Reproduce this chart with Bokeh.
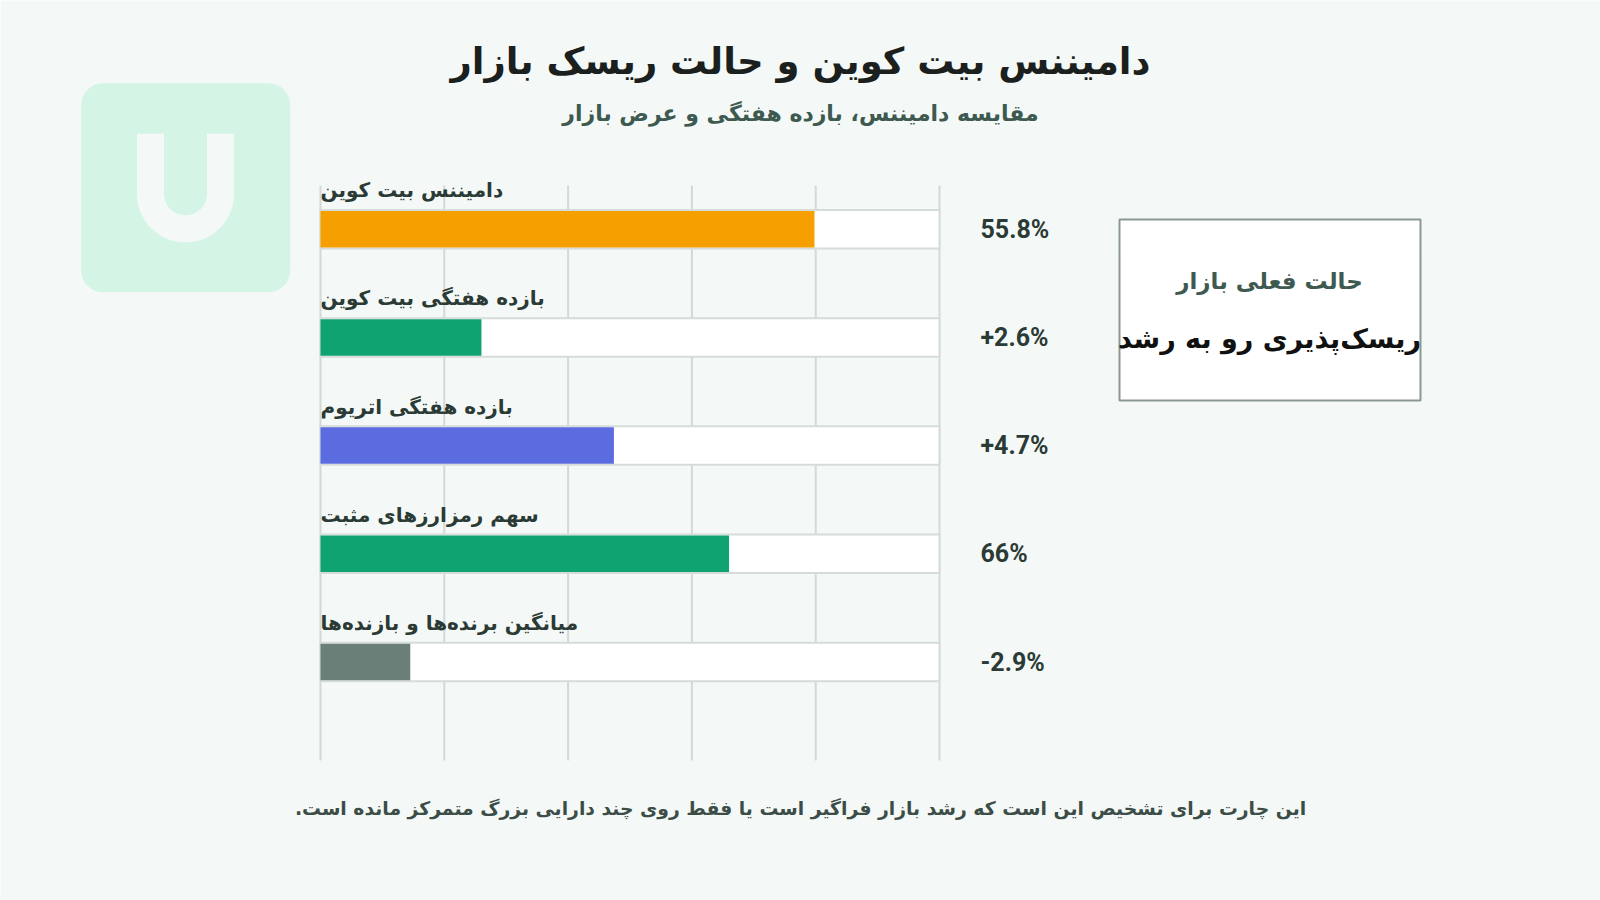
import numpy as np
from bokeh.plotting import figure
from bokeh.models import Range1d, BoxAnnotation
from bokeh.core.properties import value
from bokeh.embed import file_html
from bokeh.resources import INLINE

# ---------------- data ----------------
categories = [
    "دامیننس بیت کوین",
    "بازده هفتگی بیت کوین",
    "بازده هفتگی اتریوم",
    "سهم رمزارزهای مثبت",
    "میانگین برنده\u200cها و بازنده\u200cها",
]
bar_scores = [79.8, 26.0, 47.4, 66.0, 14.5]          # bar length on the 0-100 track
value_labels = ["55.8%", "+2.6%", "+4.7%", "66%", "-2.9%"]
bar_colors = ["#f5a000", "#0fa372", "#5b6be0", "#0fa372", "#6a7f78"]
grid_ticks = [0, 20, 40, 60, 80, 100]

title = "دامیننس بیت کوین و حالت ریسک بازار"
subtitle = "مقایسه دامیننس، بازده هفتگی و عرض بازار"
box_title = "حالت فعلی بازار"
box_value = "ریسک\u200cپذیری رو به رشد"
footer = "این چارت برای تشخیص این است که رشد بازار فراگیر است یا فقط روی چند دارایی بزرگ متمرکز مانده است.\u200f"

# ---------------- layout ----------------
W, H = 1600, 900
BG = "#f4f9f7"
FA = value("DejaVu Sans")
track_l, track_r = 320.0, 939.0        # px
ppu = (track_r - track_l) / 100.0
row0, step = 228.7, 108.2              # px
y = list(range(len(categories)))

p = figure(width=W, height=H, output_backend="svg", toolbar_location=None,
           x_axis_location=None, y_axis_location=None,
           x_range=Range1d(-track_l / ppu, (W - track_l) / ppu),
           y_range=Range1d((H - row0) / step, -row0 / step),
           min_border=0, min_border_left=0, min_border_right=0,
           min_border_top=0, min_border_bottom=0)
p.extra_x_ranges = {"px": Range1d(0, W)}
p.extra_y_ranges = {"px": Range1d(H, 0)}
p.background_fill_color = BG
p.border_fill_color = BG
p.outline_line_color = None
p.grid.visible = False

# grid lines
g_top, g_bot = (185 - row0) / step, (760 - row0) / step
p.segment(x0=grid_ticks, x1=grid_ticks, y0=[g_top] * len(grid_ticks),
          y1=[g_bot] * len(grid_ticks), line_color="#d3d9d7", line_width=2)

# tracks and bars
bh = 38.5 / step
p.hbar(y=y, left=0, right=100, height=bh, fill_color="white",
       line_color="#d5dcd9", line_width=2)
p.hbar(y=y, left=0, right=bar_scores, height=bh - 2 / step, fill_color=bar_colors,
       line_color=None)

# labels
p.text(x=[0] * len(y), y=[v - 0.36 for v in y], text=categories, text_font=FA,
       text_font_style="bold", text_font_size="20px", text_color="#2b3a35",
       text_align="left", text_baseline="middle")
p.text(x=[(980 - track_l) / ppu] * len(y), y=y, text=value_labels,
       text_font=value("Roboto"), text_font_style="bold", text_font_size="25px",
       text_color="#2b3a35", text_align="left", text_baseline="middle")

# title / subtitle / footer
p.text(x=[800], y=[61], text=[title], text_font=FA, text_font_style="bold",
       text_font_size="37px", text_color="#1b1f1d", text_align="center",
       text_baseline="middle", x_range_name="px", y_range_name="px")
p.text(x=[800], y=[113], text=[subtitle], text_font=FA, text_font_style="bold",
       text_font_size="22px", text_color="#3e5a50", text_align="center",
       text_baseline="middle", x_range_name="px", y_range_name="px")
p.text(x=[800], y=[808], text=[footer], text_font=FA, text_font_style="bold",
       text_font_size="18.8px", text_color="#3c4d47", text_align="center",
       text_baseline="middle", x_range_name="px", y_range_name="px")

# logo
p.add_layout(BoxAnnotation(left=80.6, right=289.8, top=82.7, bottom=291.8,
                           x_range_name="px", y_range_name="px",
                           fill_color="#d4f5e5", fill_alpha=1, line_color=None,
                           border_radius=22, level="underlay"))
t = np.linspace(np.pi, 0, 40)
cx, cy, r = 185.0, 193.4, 35.0
ux = np.concatenate([[cx - r], cx + r * np.cos(t), [cx + r]])
uy = np.concatenate([[133.3], cy + r * np.sin(t), [133.3]])
p.line(x=ux, y=uy, line_color=BG, line_width=27, line_join="round", line_cap="butt",
       x_range_name="px", y_range_name="px")

# status box
p.add_layout(BoxAnnotation(left=1119, right=1420, top=219, bottom=400,
                           x_range_name="px", y_range_name="px",
                           fill_color="white", fill_alpha=1,
                           line_color="#8a9893", line_alpha=1, line_width=2,
                           level="underlay"))
p.text(x=[1269], y=[280], text=[box_title], text_font=FA, text_font_style="bold",
       text_font_size="23px", text_color="#3e5a50", text_align="center",
       text_baseline="middle", x_range_name="px", y_range_name="px")
p.text(x=[1269], y=[338], text=[box_value], text_font=FA, text_font_style="bold",
       text_font_size="27px", text_color="#111111", text_align="center",
       text_baseline="middle", x_range_name="px", y_range_name="px")

open("out.html", "w").write(file_html(p, INLINE))
